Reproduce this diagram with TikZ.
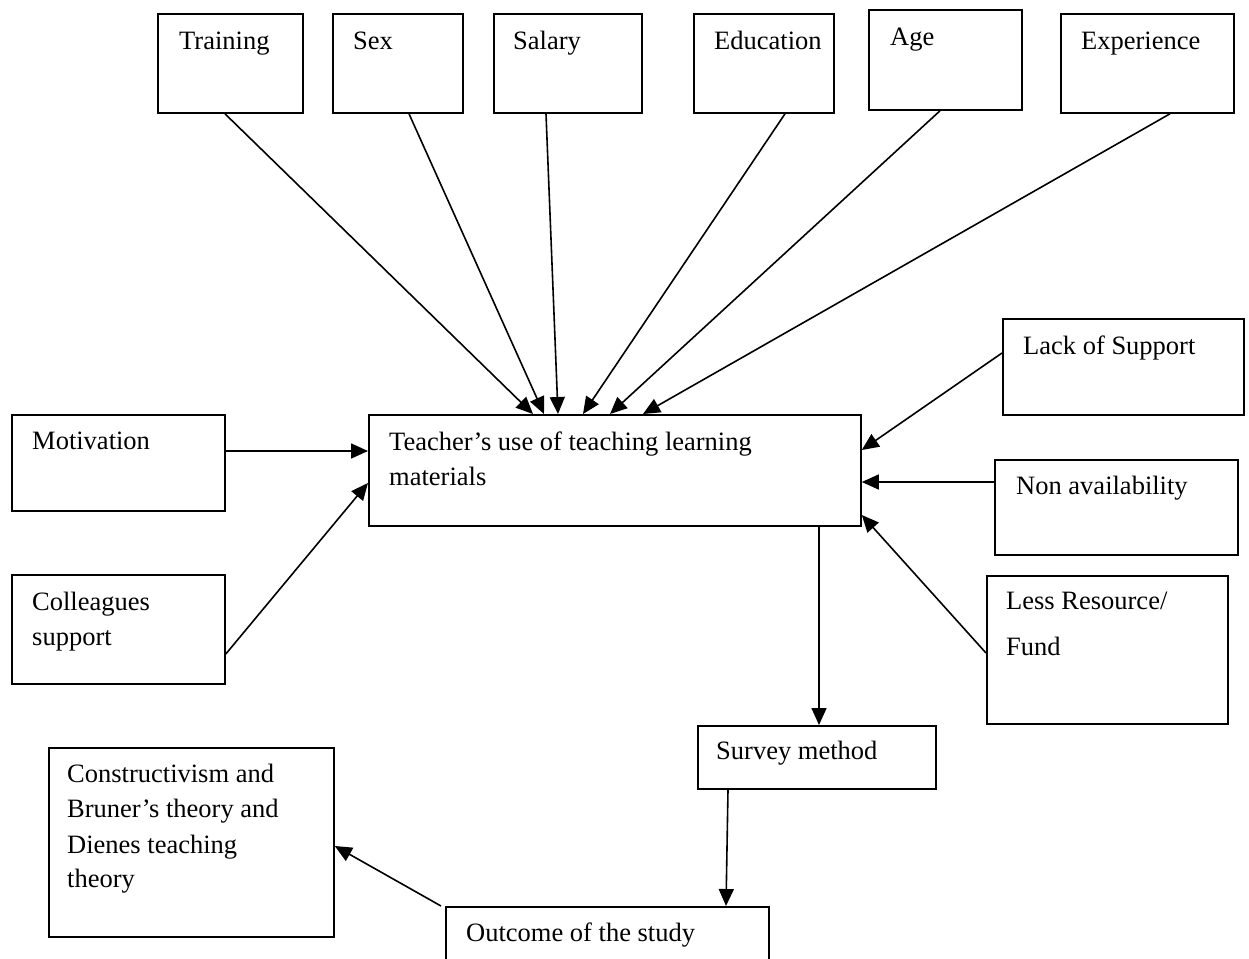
\documentclass[tikz,border=0pt]{standalone}
\usepackage{fontspec}
\setmainfont{Liberation Serif}
\usetikzlibrary{arrows.meta,calc}
\begin{document}
\begin{tikzpicture}[x=1pt,y=-1pt,
  box/.style={draw,line width=1.8pt,inner sep=0pt,anchor=north west},
  lbl/.style={inner sep=0pt,anchor=base west,font=\fontsize{26.5}{35}\selectfont},
  arr/.style={line width=1.6pt,-{Triangle[length=17pt,width=15pt]}}]
\useasboundingbox (0,0) rectangle (1249,958);
% boxes
\node[box,minimum width=145pt,minimum height=99pt] (train) at (157,13) {};
\node[box,minimum width=130pt,minimum height=99pt] (sex) at (332,13) {};
\node[box,minimum width=148pt,minimum height=99pt] (salary) at (493,13) {};
\node[box,minimum width=140pt,minimum height=99pt] (edu) at (693,13) {};
\node[box,minimum width=153pt,minimum height=100pt] (age) at (868,9) {};
\node[box,minimum width=173pt,minimum height=99pt] (exp) at (1060,13) {};
\node[box,minimum width=492pt,minimum height=111pt] (main) at (368,414) {};
\node[box,minimum width=241pt,minimum height=96pt] (lack) at (1002,318) {};
\node[box,minimum width=243pt,minimum height=95pt] (nonav) at (994,459) {};
\node[box,minimum width=241pt,minimum height=148pt] (less) at (986,575) {};
\node[box,minimum width=213pt,minimum height=96pt] (motiv) at (11,414) {};
\node[box,minimum width=213pt,minimum height=109pt] (coll) at (11,574) {};
\node[box,minimum width=238pt,minimum height=63pt] (survey) at (697,725) {};
\node[box,minimum width=285pt,minimum height=189pt] (cons) at (48,747) {};
\node[box,minimum width=323pt,minimum height=80pt] (outcome) at (445,906) {};
% labels
\node[lbl] (train-t) at (179,50) {Training};
\node[lbl] (sex-t) at (353,50) {Sex};
\node[lbl] (salary-t) at (513,50) {Salary};
\node[lbl] (edu-t) at (714,50) {Education};
\node[lbl] (age-t) at (890,46) {Age};
\node[lbl] (exp-t) at (1081,50) {Experience};
\node[lbl] (main-t1) at (389,450) {Teacher’s use of teaching learning};
\node[lbl] (main-t2) at (389,485) {materials};
\node[lbl] (motiv-t) at (32,449) {Motivation};
\node[lbl] (coll-t1) at (32,610) {Colleagues};
\node[lbl] (coll-t2) at (32,645) {support};
\node[lbl] (lack-t) at (1023,354) {Lack of Support};
\node[lbl] (nonav-t) at (1016,494) {Non availability};
\node[lbl] (less-t1) at (1006,609) {Less Resource/};
\node[lbl] (less-t2) at (1006,655) {Fund};
\node[lbl] (survey-t) at (716,759) {Survey method};
\node[lbl] (cons-t1) at (67,782) {Constructivism and};
\node[lbl] (cons-t2) at (67,817) {Bruner’s theory and};
\node[lbl] (cons-t3) at (67,853) {Dienes teaching};
\node[lbl] (cons-t4) at (67,887) {theory};
\node[lbl] (outcome-t) at (466,941) {Outcome of the study};
% connectors
\draw[arr] ($(train.south west)+(68,0)$) -- ($(main.north west)+(165,0)$);
\draw[arr] ($(sex.south west)+(77,0)$) -- ($(main.north west)+(176,0)$);
\draw[arr] ($(salary.south west)+(53,0)$) -- ($(main.north west)+(190,0)$);
\draw[arr] ($(edu.south west)+(92,0)$) -- ($(main.north west)+(215,0)$);
\draw[arr] ($(age.south west)+(72,0)$) -- ($(main.north west)+(242,0)$);
\draw[arr] ($(exp.south west)+(110,0)$) -- ($(main.north west)+(275,0)$);
\draw[arr] ($(lack.north west)+(0,35)$) -- ($(main.north east)+(0,36)$);
\draw[arr] ($(nonav.north west)+(0,23)$) -- ($(main.north east)+(0,68)$);
\draw[arr] ($(less.north west)+(0,78)$) -- ($(main.north east)+(0,101)$);
\draw[arr] ($(motiv.north east)+(0,37)$) -- ($(main.north west)+(0,37)$);
\draw[arr] ($(coll.north east)+(0,80)$) -- ($(main.north west)+(0,69)$);
\draw[arr] ($(main.south west)+(451,0)$) -- ($(survey.north west)+(122,0)$);
\draw[arr] ($(survey.south west)+(31,0)$) -- ($(outcome.north west)+(281,0)$);
\draw[arr] ($(outcome.north west)+(-4,0)$) -- ($(cons.north east)+(0,99)$);
\end{tikzpicture}
\end{document}
